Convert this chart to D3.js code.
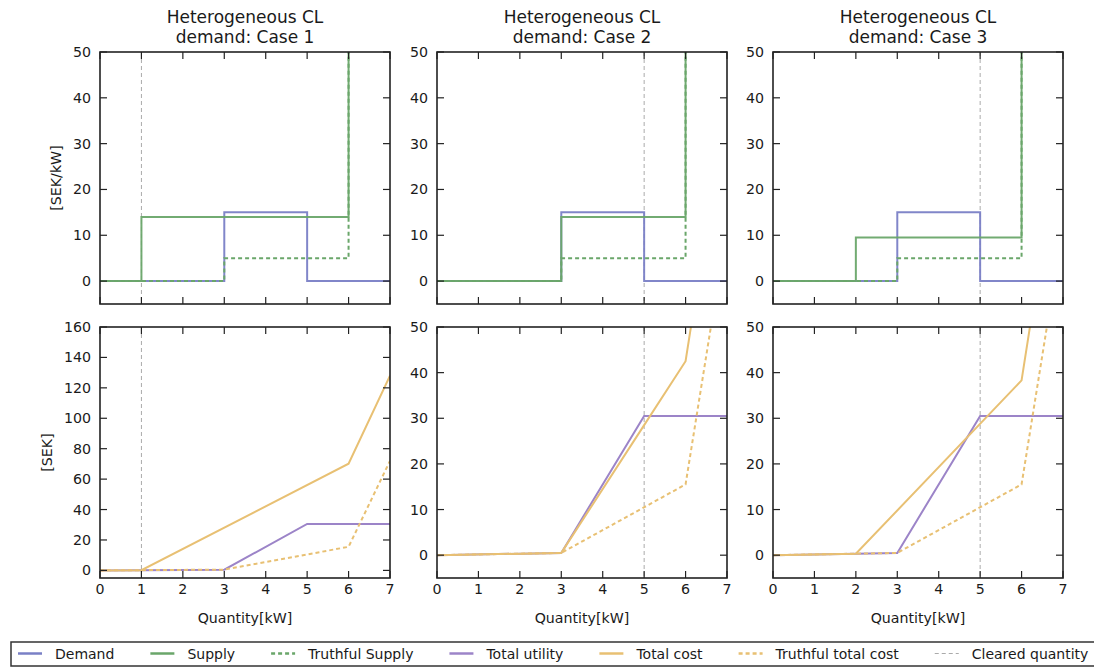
<!DOCTYPE html>
<html><head><meta charset="utf-8">
<script src="https://cdn.jsdelivr.net/npm/d3@7"></script>
<style>
body{margin:0;background:#fff;}
text{font-family:"DejaVu Sans",sans-serif;fill:#1a1a1a;}
</style></head>
<body>
<svg id="c" width="1094" height="667"></svg>
<script>
// ---------- data ----------
const cases = ["Case 1", "Case 2", "Case 3"];
const xTicks = [0,1,2,3,4,5,6,7];
const topTicks = [0,10,20,30,40,50];
const bottomTicks1 = [0,20,40,60,80,100,120,140,160];
const bottomTicks23 = [0,10,20,30,40,50];
const clearedQuantity = [1, 5, 5];

// step functions (step-after breakpoints [x, y])
const demand = [[0,0],[3,15],[5,0],[7,0]];
const supply1 = [[0,0],[1,14],[6,50]];
const supply2 = [[0,0],[3,14],[6,50]];
const supply3 = [[0,0],[2,9.5],[6,50]];
const truthfulSupply = [[0,0],[3,5],[6,50]];

// cumulative curves (piecewise linear)
const totalUtility = [[0,0],[3,0.5],[5,30.5],[7,30.5]];
const totalCost1 = [[0,0],[1,0.1],[6,70.1],[7,128]];
const totalCost2 = [[0,0],[3,0.5],[5,28.5],[6,42.5],[7,100.5]];
const totalCost3 = [[0,0],[2,0.3],[6,38.3],[7,96.3]];
const truthfulTotalCost = [[0,0],[3,0.5],[6,15.5],[7,72]];

const supplies = [supply1, supply2, supply3];
const costs = [totalCost1, totalCost2, totalCost3];

const legendItems = [
  {label:"Demand", color:"#7a80c6", dash:null},
  {label:"Supply", color:"#6aa66a", dash:null},
  {label:"Truthful Supply", color:"#6aa66a", dash:"4,3"},
  {label:"Total utility", color:"#9c84c8", dash:null},
  {label:"Total cost", color:"#e8c073", dash:null},
  {label:"Truthful total cost", color:"#e8c073", dash:"4,3"},
  {label:"Cleared quantity", color:"#aaaaaa", dash:"4,3", thin:true}
];

// ---------- layout ----------
const svg = d3.select("#c");
const panelLeft = [100, 437, 773];
const panelW = 290;
const topRow = {y0:52, y1:304};
const botRow = {y0:327, y1:578};
const C = {demand:"#7a80c6", supply:"#6aa66a", util:"#9c84c8", cost:"#e8c073", clear:"#aaaaaa"};
const tickFont = 14.2;

function drawFrame(g, x, y, xt, yt, showXLabels) {
  const [xa, xb] = x.range();
  const [ya, yb] = y.range(); // ya bottom, yb top
  const tl = 7;
  xt.forEach(v => {
    g.append("line").attr("x1",x(v)).attr("x2",x(v)).attr("y1",ya).attr("y2",ya-tl).attr("stroke","#222").attr("stroke-width",1.2);
    g.append("line").attr("x1",x(v)).attr("x2",x(v)).attr("y1",yb).attr("y2",yb+tl).attr("stroke","#222").attr("stroke-width",1.2);
    if (showXLabels) g.append("text").attr("x",x(v)).attr("y",ya+15.5).attr("text-anchor","middle").attr("font-size",tickFont).text(v);
  });
  yt.forEach(v => {
    g.append("line").attr("x1",xa).attr("x2",xa+tl).attr("y1",y(v)).attr("y2",y(v)).attr("stroke","#222").attr("stroke-width",1.2);
    g.append("line").attr("x1",xb).attr("x2",xb-tl).attr("y1",y(v)).attr("y2",y(v)).attr("stroke","#222").attr("stroke-width",1.2);
    g.append("text").attr("x",xa-9).attr("y",y(v)+5).attr("text-anchor","end").attr("font-size",tickFont).text(v);
  });
  g.append("rect").attr("x",xa).attr("y",yb).attr("width",xb-xa).attr("height",ya-yb)
    .attr("fill","none").attr("stroke","#222").attr("stroke-width",1.6);
}

const stepLine = (x,y) => d3.line().x(d=>x(d[0])).y(d=>y(d[1])).curve(d3.curveStepAfter);
const linLine = (x,y) => d3.line().x(d=>x(d[0])).y(d=>y(d[1]));

cases.forEach((cs, i) => {
  const x = d3.scaleLinear().domain([0,7]).range([panelLeft[i], panelLeft[i]+panelW]);
  // ---- top panel ----
  const yT = d3.scaleLinear().domain([-5,50]).range([topRow.y1, topRow.y0]);
  const gT = svg.append("g");
  const clipT = "clipT"+i;
  svg.append("clipPath").attr("id",clipT).append("rect")
    .attr("x",x(0)).attr("y",topRow.y0).attr("width",panelW).attr("height",topRow.y1-topRow.y0);
  const pT = gT.append("g").attr("clip-path",`url(#${clipT})`);
  pT.append("line").attr("x1",x(clearedQuantity[i])).attr("x2",x(clearedQuantity[i]))
    .attr("y1",topRow.y0).attr("y2",topRow.y1).attr("stroke",C.clear).attr("stroke-width",1).attr("stroke-dasharray","4,3");
  pT.append("path").attr("d",stepLine(x,yT)(demand)).attr("fill","none").attr("stroke",C.demand).attr("stroke-width",2).attr("stroke-opacity",0.95);
  pT.append("path").attr("d",stepLine(x,yT)(supplies[i])).attr("fill","none").attr("stroke",C.supply).attr("stroke-width",2).attr("stroke-opacity",0.95);
  pT.append("path").attr("d",stepLine(x,yT)(truthfulSupply)).attr("fill","none").attr("stroke",C.supply).attr("stroke-width",2).attr("stroke-dasharray","4,3");
  drawFrame(gT, x, yT, xTicks, topTicks, false);
  gT.append("text").attr("x",x(3.5)).attr("y",23).attr("text-anchor","middle").attr("font-size",17).text("Heterogeneous CL");
  gT.append("text").attr("x",x(3.5)).attr("y",43).attr("text-anchor","middle").attr("font-size",17).text("demand: " + cs);

  // ---- bottom panel ----
  const yB = d3.scaleLinear().domain(i===0?[-5,160]:[-5,50]).range([botRow.y1, botRow.y0]);
  const gB = svg.append("g");
  const clipB = "clipB"+i;
  svg.append("clipPath").attr("id",clipB).append("rect")
    .attr("x",x(0)).attr("y",botRow.y0).attr("width",panelW).attr("height",botRow.y1-botRow.y0);
  const pB = gB.append("g").attr("clip-path",`url(#${clipB})`);
  pB.append("line").attr("x1",x(clearedQuantity[i])).attr("x2",x(clearedQuantity[i]))
    .attr("y1",botRow.y0).attr("y2",botRow.y1).attr("stroke",C.clear).attr("stroke-width",1).attr("stroke-dasharray","4,3");
  pB.append("path").attr("d",linLine(x,yB)(totalUtility)).attr("fill","none").attr("stroke",C.util).attr("stroke-width",2);
  pB.append("path").attr("d",linLine(x,yB)(costs[i])).attr("fill","none").attr("stroke",C.cost).attr("stroke-width",2);
  pB.append("path").attr("d",linLine(x,yB)(truthfulTotalCost)).attr("fill","none").attr("stroke",C.cost).attr("stroke-width",2).attr("stroke-dasharray","4,3");
  drawFrame(gB, x, yB, xTicks, i===0?bottomTicks1:bottomTicks23, true);
  gB.append("text").attr("x",x(3.5)).attr("y",623).attr("text-anchor","middle").attr("font-size",tickFont).text("Quantity[kW]");
});

// y-axis labels
svg.append("text").attr("transform",`translate(61,${(topRow.y0+topRow.y1)/2}) rotate(-90)`).attr("text-anchor","middle").attr("font-size",tickFont).text("[SEK/kW]");
svg.append("text").attr("transform",`translate(52,${(botRow.y0+botRow.y1)/2}) rotate(-90)`).attr("text-anchor","middle").attr("font-size",tickFont).text("[SEK]");

// ---------- legend ----------
const lg = svg.append("g");
lg.append("rect").attr("x",11).attr("y",642).attr("width",1100).attr("height",24)
  .attr("fill","#fff").attr("stroke","#333").attr("stroke-width",1.5);
const legendFont = 14;
let cx = 18;
legendItems.forEach(it => {
  lg.append("line").attr("x1",cx).attr("x2",cx+24).attr("y1",653.5).attr("y2",653.5)
    .attr("stroke",it.color).attr("stroke-width",it.thin?1:2.5).attr("stroke-dasharray",it.dash);
  const t = lg.append("text").attr("x",cx+37).attr("y",658.5).attr("font-size",legendFont).text(it.label);
  cx = cx + 37 + t.node().getComputedTextLength() + 36;
});
</script>
</body></html>
